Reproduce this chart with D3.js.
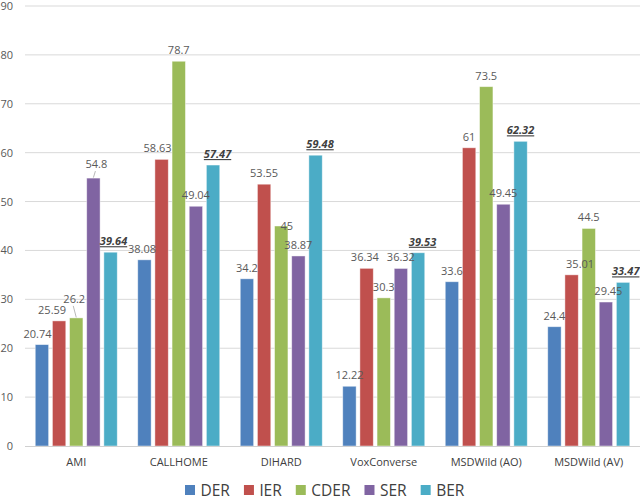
<!DOCTYPE html>
<html><head><meta charset="utf-8">
<script src="https://cdn.jsdelivr.net/npm/d3@7"></script>
<style>
html,body{margin:0;padding:0;background:#fff;}
svg{display:block;font-family:"Open Sans",sans-serif;}
</style></head>
<body>
<svg id="chart" width="640" height="496"></svg>
<script>
// ---- data ----
const categories = ["AMI", "CALLHOME", "DIHARD", "VoxConverse", "MSDWild (AO)", "MSDWild (AV)"];
const seriesNames = ["DER", "JER", "CDER", "SER", "BER"];
const DER  = [20.74, 38.08, 34.2, 12.22, 33.6, 24.4];
const JER  = [25.59, 58.63, 53.55, 36.34, 61, 35.01];
const CDER = [26.2, 78.7, 45, 30.3, 73.5, 44.5];
const SER  = [54.8, 49.04, 38.87, 36.32, 49.45, 29.45];
const BER  = [39.64, 57.47, 59.48, 39.53, 62.32, 33.47];
const yTicks = [0, 10, 20, 30, 40, 50, 60, 70, 80, 90];
const highlightSeries = "BER";

// ---- styles / layout ----
const colors = {DER:"#4F81BD", JER:"#C0504D", CDER:"#9BBB59", SER:"#8064A2", BER:"#4BACC6"};
const values = {DER, JER, CDER, SER, BER};
// manual label nudges (like hand-placed Excel labels)
const labelNudge = {
  "AMI|DER":[-4.5,0], "AMI|JER":[-7,0], "AMI|CDER":[-2,-8,true], "AMI|SER":[3,-3,true], "AMI|BER":[3,0],
  "CALLHOME|DER":[-2.5,0], "CALLHOME|JER":[-4,0], "CALLHOME|BER":[4.5,0],
  "DIHARD|CDER":[5.5,11], "DIHARD|BER":[4.5,0],
  "VoxConverse|JER":[-1.7,0], "VoxConverse|BER":[4.5,0],
  "MSDWild (AV)|JER":[8.5,0], "MSDWild (AV)|SER":[2.5,0], "MSDWild (AV)|BER":[2.7,0]
};

const svg = d3.select("#chart");
const mLeft = 25, mRight = 640, mTop = 6, mBottom = 446;

const x0 = d3.scaleBand().domain(categories).range([mLeft, mRight]).paddingInner(0.2).paddingOuter(0.1);
const x1 = d3.scaleBand().domain(seriesNames).range([0, x0.bandwidth()]).paddingInner(0.22);
const y = d3.scaleLinear().domain([0, 90]).range([mBottom, mTop]);

// gridlines
svg.append("g").selectAll("line").data(yTicks.filter(t => t > 0)).join("line")
  .attr("x1", mLeft).attr("x2", mRight)
  .attr("y1", d => y(d)).attr("y2", d => y(d))
  .attr("stroke", "#d9d9d9").attr("stroke-width", 1);

// y axis labels
const yAxis = d3.axisLeft(y).tickValues(yTicks).tickSize(0).tickPadding(0);
const gy = svg.append("g").attr("transform", "translate(13,0)").call(yAxis);
gy.select(".domain").remove();
gy.selectAll("text").attr("font-size", 11).attr("fill", "#595959").attr("font-family", "Open Sans");

// bars
const flat = [];
categories.forEach((c, i) => seriesNames.forEach(s => flat.push({cat: c, ser: s, v: values[s][i]})));

svg.append("g").selectAll("rect").data(flat).join("rect")
  .attr("x", d => x0(d.cat) + x1(d.ser))
  .attr("y", d => y(d.v))
  .attr("width", x1.bandwidth())
  .attr("height", d => y(0) - y(d.v))
  .attr("fill", d => colors[d.ser])
  .attr("stroke", "#ffffff").attr("stroke-opacity", 0.55).attr("stroke-width", 0.8);

// x axis line
const xAxis = d3.axisBottom(x0).tickSize(0).tickPadding(0);
const gx = svg.append("g").attr("transform", `translate(0,${mBottom})`).call(xAxis);
gx.select(".domain").attr("stroke", "#d0d0d0").attr("d", `M${mLeft},0.5H${mRight}`);
gx.selectAll("text").attr("font-size", 11).attr("fill", "#404040")
  .attr("font-family", "Open Sans").attr("dy", 0).attr("y", 19.5);

// data labels
const lab = svg.append("g");
flat.forEach(d => {
  const n = labelNudge[d.cat + "|" + d.ser] || [0, 0];
  const cx = x0(d.cat) + x1(d.ser) + x1.bandwidth() / 2;
  const by = y(d.v);
  const lx = cx + n[0], ly = by - 7 + n[1];
  const hl = d.ser === highlightSeries;
  lab.append("text")
    .attr("x", lx).attr("y", ly)
    .attr("text-anchor", "middle")
    .attr("font-size", 11)
    .attr("fill", hl ? "#404040" : "#595959")
    .attr("font-weight", hl ? "bold" : "normal")
    .attr("font-style", hl ? "italic" : "normal")
    .attr("text-decoration", hl ? "underline" : "none")
    .text(d.v);
  if (n[2]) {
    lab.append("line")
      .attr("x1", lx - 1).attr("y1", ly + 3)
      .attr("x2", cx).attr("y2", by - 0.5)
      .attr("stroke", "#a6a6a6").attr("stroke-width", 0.8);
  }
});

// legend
const leg = svg.append("g");
let lxPos = 185;
seriesNames.forEach(s => {
  leg.append("rect").attr("x", lxPos).attr("y", 485).attr("width", 10).attr("height", 10).attr("fill", colors[s]);
  const t = leg.append("text").attr("x", lxPos + 15.5).attr("y", 495.5)
    .attr("font-size", 15.5).attr("fill", "#404040").text(s);
  const w = t.node().getComputedTextLength();
  lxPos = lxPos + 15.5 + w + 14;
});
</script>
</body></html>
